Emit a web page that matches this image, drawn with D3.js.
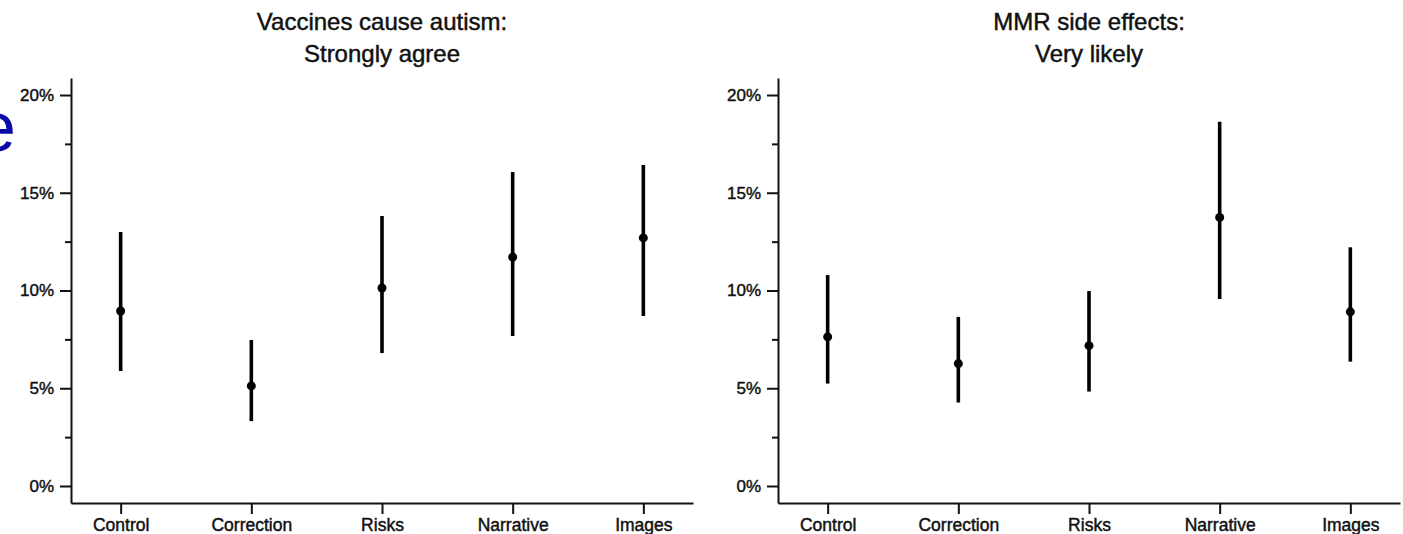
<!DOCTYPE html>
<html>
<head>
<meta charset="utf-8">
<script src="https://cdn.jsdelivr.net/npm/d3@7"></script>
<style>
  body { margin: 0; background: #fff; }
  svg { display: block; font-family: "Liberation Sans", Arial, sans-serif; }
</style>
</head>
<body>
<div id="chart"></div>
<script>
// values, in percent
const categories = ["Control", "Correction", "Risks", "Narrative", "Images"];
const autismEst  = [8.95, 5.12, 10.13, 11.71, 12.69];
const autismLow  = [5.88, 3.32, 6.80, 7.67, 8.70];
const autismHigh = [12.99, 7.47, 13.81, 16.06, 16.42];
const mmrEst  = [7.63, 6.26, 7.18, 13.74, 8.91];
const mmrLow  = [5.24, 4.27, 4.83, 9.57, 6.36];
const mmrHigh = [10.79, 8.65, 9.97, 18.63, 12.21];
const yTicks = [0, 5, 10, 15, 20];
const yMinor = [2.5, 7.5, 12.5, 17.5];
const panelTitles = [["Vaccines cause autism:", "Strongly agree"], ["MMR side effects:", "Very likely"]];

const W = 1403, H = 534;
const svg = d3.select("#chart").append("svg").attr("width", W).attr("height", H);

// stray piece of a label from the source page (cut at the left edge there too)
svg.append("text").text("e").attr("x", -23).attr("y", 151)
  .attr("font-size", 70).attr("fill", "#0a0aa8");

function drawPanel(x0, x1, titles, est, low, high) {
  const x = d3.scalePoint().domain(categories).range([x0, x1]).padding(0.38);
  const y = d3.scaleLinear().domain([-0.87, 20.87]).range([503, 78]);
  const g = svg.append("g");

  // minor ticks
  g.append("g").attr("transform", "translate(" + x0 + ",0)")
    .call(d3.axisLeft(y).tickValues(yMinor).tickSize(6).tickSizeOuter(0).tickFormat(""))
    .call(a => a.select(".domain").remove());

  const ya = g.append("g").attr("transform", "translate(" + x0 + ",0)")
    .call(d3.axisLeft(y).tickValues(yTicks).tickSize(11).tickPadding(6).tickSizeOuter(0).tickFormat(d => d + "%"));
  ya.selectAll("text").attr("font-size", 17);

  const xa = g.append("g").attr("transform", "translate(0,503)")
    .call(d3.axisBottom(x).tickSize(11).tickPadding(5).tickSizeOuter(0));
  xa.selectAll("text").attr("font-size", 17.5);

  g.selectAll(".domain, .tick line").attr("stroke", "#111").attr("stroke-width", 2);

  // error bars
  g.selectAll(".ci").data(categories).enter().append("line")
    .attr("x1", d => x(d)).attr("x2", d => x(d))
    .attr("y1", (d, i) => y(low[i])).attr("y2", (d, i) => y(high[i]))
    .attr("stroke", "#000").attr("stroke-width", 3.6);

  g.selectAll(".pt").data(categories).enter().append("circle")
    .attr("cx", d => x(d)).attr("cy", (d, i) => y(est[i])).attr("r", 4.5)
    .attr("fill", "#000");

  const cx = (x0 + x1) / 2;
  g.append("text").text(titles[0]).attr("x", cx).attr("y", 30)
    .attr("text-anchor", "middle").attr("font-size", 24);
  g.append("text").text(titles[1]).attr("x", cx).attr("y", 62)
    .attr("text-anchor", "middle").attr("font-size", 24);

  g.selectAll("text").attr("font-family", "Liberation Sans, Arial, sans-serif")
    .attr("fill", "#111").attr("stroke", "#111").attr("stroke-width", 0.45);
}

drawPanel(71, 693, panelTitles[0], autismEst, autismLow, autismHigh);
drawPanel(778, 1400, panelTitles[1], mmrEst, mmrLow, mmrHigh);
</script>
</body>
</html>
